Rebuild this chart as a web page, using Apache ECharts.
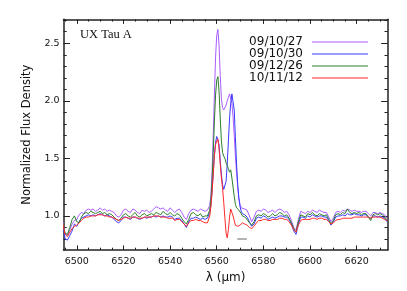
<!DOCTYPE html>
<html><head><meta charset="utf-8">
<script src="https://cdn.jsdelivr.net/npm/echarts@6/dist/echarts.min.js"></script>
<style>html,body{margin:0;padding:0;background:#fff}#c{width:407px;height:291px}</style>
</head><body><div id="c"></div>
<script>
const wavelength = [
6494,6495,6496,6497,6498,6499,6500,6501,6502,6503,6504,6505,6506,6507,6508,6509,6510,6511,6512,6513,6514,6515,6516,6517,6518,6519,6520,6521,6522,6523,6524,6525,6526,6527,6528,6529,6530,6531,6532,6533,6534,6535,6536,6537,6538,6539,6540,6541,6542,6543,6544,6545,6546,6547,6548,6549,6550,6551,6552,6553,6554,6555,6556,
6556.5,6557,6557.5,6558,6558.5,6559,6559.5,6560,6560.5,6561,6561.5,6562,6562.5,6563,6563.5,6564,6564.5,6565,6565.5,6566,6566.5,6567,6567.5,6568,6568.5,6569,6569.5,6570,6570.5,6571,
6572,6573,6574,6575,6576,6577,6578,6579,6580,6581,6582,6583,6584,6585,6586,6587,6588,6589,6590,6591,6592,6593,6594,6595,6596,6597,6598,6599,6600,6601,6602,6603,6604,6605,6606,6607,6608,6609,6610,6611,6612,6613,6614,6615,6616,6617,6618,6619,6620,6621,6622,6623,6624,6625,6626,6627,6628,6629,6630,6631,6632,6633
];
const flux091027 = [
0.95,0.84,0.83,0.88,0.93,0.96,0.97,1.01,1.03,1.02,1.05,1.06,1.05,1.06,1.04,1.05,1.07,1.05,1.06,1.04,1.05,1.04,1.03,1.00,0.99,1.01,1.05,1.06,1.04,1.03,1.06,1.05,1.03,1.02,1.05,1.04,1.05,1.03,1.04,1.06,1.08,1.07,1.06,1.07,1.05,1.04,1.07,1.05,1.03,1.05,1.06,1.03,0.99,0.97,1.02,1.05,1.06,1.05,1.04,1.06,1.05,1.04,1.05,
1.06,1.09,1.18,1.38,1.70,2.05,2.38,2.57,2.62,2.48,2.22,2.02,1.94,1.92,1.93,1.96,2.00,2.03,2.06,2.05,1.98,1.86,1.70,1.52,1.38,1.25,1.15,1.10,1.07,1.06,
1.06,1.05,1.00,0.95,0.99,1.04,1.05,1.04,1.06,1.05,1.03,1.04,1.05,1.03,1.05,1.06,1.05,1.03,1.04,1.01,0.96,0.90,0.88,0.97,1.04,1.03,1.02,1.04,1.03,1.05,1.04,1.03,1.05,1.04,1.03,1.03,0.99,0.95,0.98,1.03,1.04,1.03,1.05,1.04,1.06,1.05,1.04,1.05,1.04,1.04,1.03,1.04,1.04,1.02,1.00,1.03,1.03,1.02,1.03,1.02,1.01,0.98
];
const flux091030 = [
0.92,0.80,0.79,0.83,0.87,0.93,0.91,0.95,0.98,0.99,1.00,1.01,1.00,1.01,1.00,1.01,1.02,1.01,1.00,1.01,1.00,0.99,0.97,0.95,0.94,0.96,0.99,0.99,0.98,0.97,0.99,0.99,0.98,0.97,0.98,0.99,0.98,0.99,0.99,1.00,0.99,1.00,0.99,1.00,0.99,0.99,1.00,0.99,0.97,0.98,0.98,0.96,0.93,0.90,0.95,0.98,0.98,0.99,0.98,0.97,0.98,0.97,0.98,
0.99,1.03,1.10,1.22,1.38,1.53,1.64,1.69,1.70,1.62,1.48,1.36,1.27,1.23,1.23,1.30,1.45,1.65,1.85,1.98,2.06,2.07,1.92,1.68,1.45,1.27,1.15,1.08,1.04,1.02,
1.01,0.99,0.95,0.91,0.93,0.98,0.99,0.98,1.00,0.99,0.97,0.98,0.99,0.98,0.99,1.00,1.00,0.99,0.99,0.97,0.93,0.87,0.84,0.93,0.99,0.99,0.98,1.00,0.99,1.01,1.00,0.99,1.00,1.00,0.99,0.99,0.96,0.92,0.95,0.99,1.00,1.00,1.01,1.00,1.02,1.01,1.01,1.02,1.01,1.01,1.00,1.01,1.01,0.99,0.98,1.00,1.00,0.99,1.00,0.99,0.98,0.95
];
const flux091226 = [
0.93,0.85,0.84,0.90,0.97,1.00,0.95,0.94,0.99,1.02,1.03,1.02,1.04,1.03,1.02,1.03,1.04,1.02,1.03,1.01,1.02,1.01,0.99,0.97,0.96,0.98,1.01,1.02,1.00,0.99,1.01,1.03,1.00,0.99,1.01,1.02,1.00,1.01,1.02,1.01,1.03,1.02,1.01,1.04,1.02,1.01,1.03,1.01,1.00,1.02,1.01,0.98,0.95,0.93,0.97,1.02,1.03,1.01,1.00,1.02,0.99,1.00,1.00,
1.01,1.05,1.14,1.30,1.55,1.82,2.05,2.18,2.21,2.08,1.85,1.65,1.55,1.52,1.50,1.46,1.44,1.41,1.38,1.40,1.33,1.25,1.17,1.10,1.07,1.06,1.05,1.04,1.02,1.00,
0.99,0.97,0.94,0.92,0.95,1.00,1.01,1.00,1.02,1.01,0.99,1.00,1.02,1.00,1.01,1.03,1.02,1.00,1.01,0.98,0.94,0.89,0.86,0.95,1.01,1.00,0.99,1.02,1.01,1.03,1.01,1.00,1.02,1.01,1.00,1.01,0.97,0.93,0.96,1.01,1.02,1.01,1.03,1.02,1.06,1.03,1.02,1.03,1.02,1.03,1.01,1.02,1.02,0.99,0.96,1.01,1.02,1.01,1.02,1.01,0.99,0.96
];
const flux101112 = [
0.93,0.84,0.82,0.86,0.89,0.91,0.92,0.94,0.96,0.98,0.99,0.99,1.00,1.00,1.00,1.01,1.01,1.01,1.00,1.00,0.99,0.99,0.98,0.97,0.96,0.97,0.98,0.99,0.98,0.98,0.99,0.99,0.98,0.98,0.98,0.99,0.99,0.99,0.99,1.00,1.00,1.00,0.99,0.99,0.99,0.98,0.98,0.98,0.96,0.97,0.97,0.95,0.93,0.91,0.94,0.96,0.96,0.97,0.96,0.96,0.95,0.94,0.94,
0.95,1.00,1.08,1.20,1.36,1.52,1.62,1.65,1.67,1.58,1.45,1.33,1.24,1.12,0.98,0.85,0.81,0.88,0.99,1.06,1.05,1.00,0.96,0.92,0.91,0.91,0.92,0.92,0.93,0.94,
0.93,0.92,0.90,0.89,0.91,0.94,0.96,0.96,0.97,0.97,0.96,0.96,0.97,0.97,0.97,0.98,0.98,0.97,0.97,0.95,0.92,0.88,0.86,0.92,0.96,0.97,0.97,0.97,0.97,0.98,0.98,0.97,0.98,0.98,0.97,0.97,0.95,0.93,0.94,0.96,0.97,0.97,0.98,0.98,0.98,0.98,0.98,0.99,0.99,0.99,0.99,0.99,0.99,0.99,0.98,0.99,0.99,0.99,0.99,0.98,0.97,0.96
];
const seriesNames = ['09/10/27','09/10/30','09/12/26','10/11/12'];
const seriesColors = ['#a95cff','#3a3aff','#2a7f2a','#ff2a2a'];
const markerSegment = [[6568.8,0.80],[6572.9,0.80]];
const xMajor = [6500,6520,6540,6560,6580,6600,6620];
const xMinor = [6495,6505,6510,6515,6525,6530,6535,6545,6550,6555,6565,6570,6575,6585,6590,6595,6605,6610,6615,6625,6630];
const yMajor = [1.0,1.5,2.0,2.5];
const yMinor = [0.8,0.9,1.1,1.2,1.3,1.4,1.6,1.7,1.8,1.9,2.1,2.2,2.3,2.4,2.6,2.7];
const xRange = [6494.3,6633.3];
const yRange = [0.704,2.708];

const allFlux = [flux091027,flux091030,flux091226,flux101112];
const frame = {show:true,lineStyle:{color:'#222',width:1.5}};
function xAx(pos, vals, len, line, labels){
  return {type:'value',position:pos,min:xRange[0],max:xRange[1],
    axisLine: line?frame:{show:false},
    axisTick:{show:true,inside:true,length:len,customValues:vals,lineStyle:{color:'#222',width:1}},
    axisLabel: labels?{show:true,customValues:vals,margin:7,fontFamily:'DejaVu Sans',fontSize:9.5,color:'#111',formatter:v=>String(Math.round(v))}:{show:false},
    splitLine:{show:false}};
}
function yAx(pos, vals, len, line, labels){
  return {type:'value',position:pos,min:yRange[0],max:yRange[1],
    axisLine: line?frame:{show:false},
    axisTick:{show:true,inside:true,length:len,customValues:vals,lineStyle:{color:'#222',width:1}},
    axisLabel: labels?{show:true,customValues:vals,margin:4,fontFamily:'DejaVu Sans',fontSize:9.5,color:'#111',formatter:v=>v.toFixed(1)}:{show:false},
    splitLine:{show:false}};
}
const xb = xAx('bottom', xMajor, 4.6, true, true);
xb.name = 'λ (μm)'; xb.nameLocation='middle'; xb.nameGap=20;
xb.nameTextStyle={fontFamily:'DejaVu Sans',fontSize:12,color:'#111'};
const yl = yAx('left', yMajor, 6.5, true, true);
yl.name = 'Normalized Flux Density'; yl.nameLocation='middle'; yl.nameGap=22; yl.nameRotate=90;
yl.nameTextStyle={fontFamily:'DejaVu Sans',fontSize:11.5,color:'#111'};

const series = allFlux.map((arr,i)=>({
  name: seriesNames[i], type:'line', xAxisIndex:0, yAxisIndex:0,
  symbol:'none', showSymbol:false, animation:false,
  lineStyle:{color:seriesColors[i],width:1}, itemStyle:{color:seriesColors[i]},
  data: wavelength.map((w,j)=>[w,arr[j]])
}));
series.push({name:'mark',type:'line',xAxisIndex:0,yAxisIndex:0,symbol:'none',animation:false,
  lineStyle:{color:'#999',width:1.5},data:markerSegment,silent:true});

const chart = echarts.init(document.getElementById('c'),null,{renderer:'canvas'});
chart.setOption({
  animation:false,
  backgroundColor:'#fff',
  title:{text:'UX Tau A',left:80,top:28,padding:0,
    textStyle:{fontFamily:'Liberation Serif',fontSize:12.5,fontWeight:'normal',color:'#111'}},
  legend:{data:seriesNames,orient:'vertical',right:39,top:36,align:'right',
    icon:'rect',itemWidth:56,itemHeight:1.2,itemGap:0,padding:0,
    textStyle:{fontFamily:'DejaVu Sans',fontSize:12,color:'#111',lineHeight:12,padding:[0,4,0,0]}},
  grid:{left:63.5,right:19.3,top:19.3,bottom:41,containLabel:false},
  xAxis:[xb, xAx('bottom',xMinor,2.3,false,false), xAx('top',xMajor,4.6,true,false), xAx('top',xMinor,2.3,false,false)],
  yAxis:[yl, yAx('left',yMinor,3.2,false,false), yAx('right',yMajor,6.5,true,false), yAx('right',yMinor,3.2,false,false)],
  series: series
});
</script></body></html>
